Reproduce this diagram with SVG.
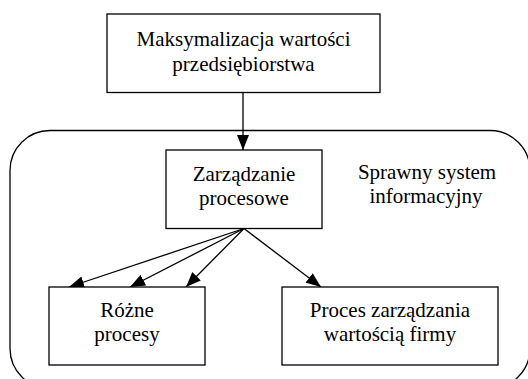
<svg xmlns="http://www.w3.org/2000/svg" width="528" height="379" viewBox="0 0 528 379" font-family="'Liberation Serif', 'Times New Roman', Times, serif">
<defs>
<style>
.box{fill:#fff;stroke:#000;stroke-width:1.3}
.t{font-family:'Liberation Serif','Times New Roman',Times,serif;font-size:21px;fill:#000;text-anchor:middle}
.c{stroke:#000;stroke-width:1.3;fill:none}
</style>
<marker id="ah" viewBox="0 0 15 12" refX="15" refY="6" markerWidth="15" markerHeight="12" markerUnits="userSpaceOnUse" orient="auto">
<path d="M0,0 L15,6 L0,12 Z" fill="#000"/>
</marker>
</defs>
<g id="container">
<rect x="10" y="130.5" width="520" height="258" rx="40" ry="40" fill="none" stroke="#000" stroke-width="1.3"/>
<text class="t" x="427" y="179">Sprawny system</text>
<text class="t" x="426" y="203">informacyjny</text>
</g>
<g id="connectors">
<line class="c" x1="243" y1="92.5" x2="243" y2="150" marker-end="url(#ah)"/>
<line class="c" x1="244" y1="228.5" x2="69" y2="287" marker-end="url(#ah)"/>
<line class="c" x1="244" y1="228.5" x2="130" y2="287" marker-end="url(#ah)"/>
<line class="c" x1="244" y1="228.5" x2="186" y2="287" marker-end="url(#ah)"/>
<line class="c" x1="244" y1="228.5" x2="321" y2="287" marker-end="url(#ah)"/>
</g>
<g id="node-top">
<rect class="box" x="107" y="14" width="273" height="78.5"/>
<text class="t" x="243.5" y="45.5">Maksymalizacja wartości</text>
<text class="t" x="243.5" y="71">przedsiębiorstwa</text>
</g>
<g id="node-mid">
<rect class="box" x="166" y="150" width="156" height="78.5"/>
<text class="t" x="244" y="181">Zarządzanie</text>
<text class="t" x="244" y="205">procesowe</text>
</g>
<g id="node-left">
<rect class="box" x="49" y="287" width="156" height="78"/>
<text class="t" x="127" y="316.5">Różne</text>
<text class="t" x="127" y="340.5">procesy</text>
</g>
<g id="node-right">
<rect class="box" x="282" y="287" width="216" height="78"/>
<text class="t" x="390" y="316.5">Proces zarządzania</text>
<text class="t" x="390" y="341">wartością firmy</text>
</g>
</svg>
